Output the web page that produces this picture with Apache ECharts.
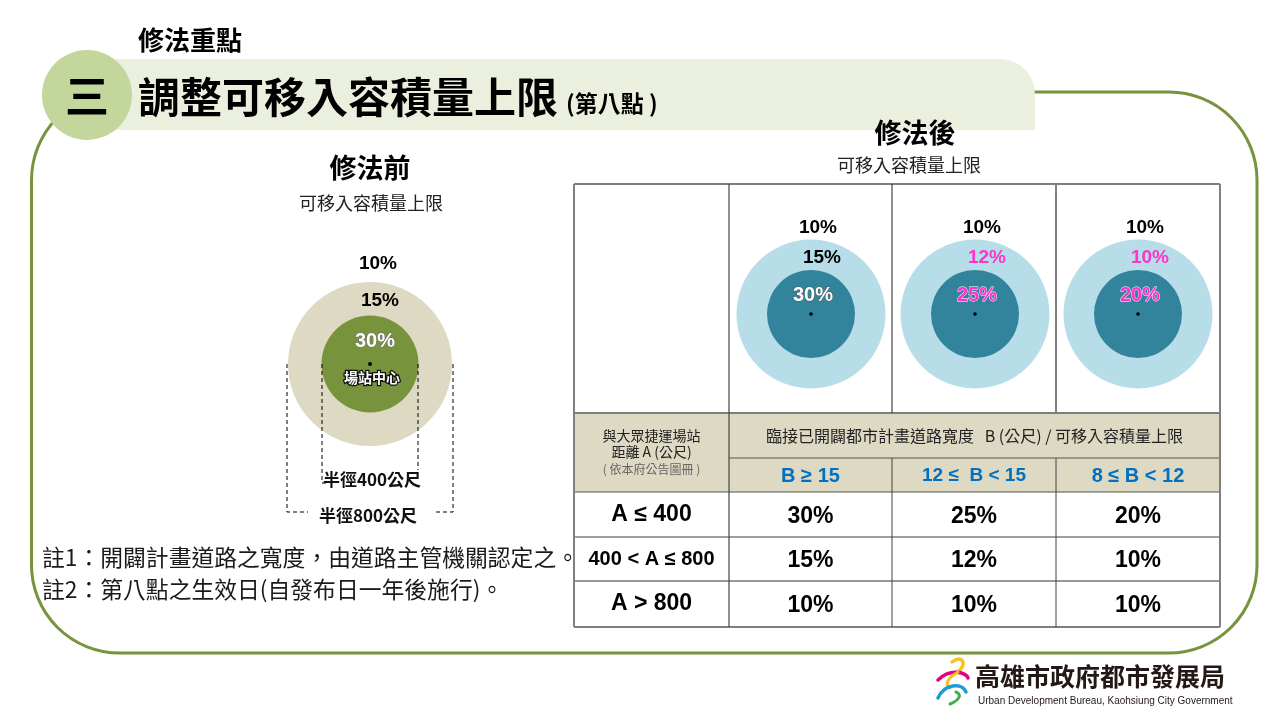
<!DOCTYPE html>
<html><head><meta charset="utf-8">
<script src="https://cdn.jsdelivr.net/npm/echarts@6/dist/echarts.min.js"></script>
<style>html,body{margin:0;padding:0;background:#fff}#c{width:1280px;height:720px}</style>
</head><body><div id="c"></div>
<script>
// ---------- data ----------
const sectionLabel = '修法重點';
const sectionNo = '三';
const titleMain = '調整可移入容積量上限';
const titleSub = '(第八點 )';
const beforeTitle = '修法前';
const afterTitle = '修法後';
const capLabel = '可移入容積量上限';
const centerLabel = '場站中心';
const radiusLabels = ['半徑400公尺', '半徑800公尺'];
const preRates = [30, 15, 10];            // inside 400m, 400-800m, beyond 800m
const rowLabels = ['A ≤ 400', '400 < A ≤ 800', 'A > 800'];
const colLabels = ['B ≥ 15', '12 ≤  B < 15', '8 ≤ B < 12'];
const rates = [                           // rows: distance A, cols: road width B
  [30, 25, 20],
  [15, 12, 10],
  [10, 10, 10]
];
const headerLeft = ['與大眾捷運場站', '距離 A (公尺)', '( 依本府公告圖冊 )'];
const headerTop = '臨接已開闢都市計畫道路寬度   B (公尺) / 可移入容積量上限';
const notes = ['註1：開闢計畫道路之寬度，由道路主管機關認定之。', '註2：第八點之生效日(自發布日一年後施行)。'];
const orgName = '高雄市政府都市發展局';
const orgEn = 'Urban Development Bureau, Kaohsiung City Government';

// ---------- layout / style ----------
const CJK = '"Noto Sans CJK TC","Noto Sans CJK SC",sans-serif';
const LAT = '"Liberation Sans Narrow","Liberation Sans",Arial,sans-serif';
const LATW = '"Liberation Sans",Arial,sans-serif';
const X = [574, 729, 892, 1056, 1220];
const Y = [184, 413, 458, 492, 537, 581, 627];
const beige = '#DDD9C3';
const g = [];

function T(text, x, y, font, fill, extra) {
  const st = Object.assign({ text: String(text), x: x, y: y, font: font, fill: fill || '#000', align: 'center', verticalAlign: 'middle' }, extra || {});
  g.push({ type: 'text', z: 20, style: st, silent: true });
}
function R(x, y, w, h, fill, z, r) {
  g.push({ type: 'rect', z: z || 1, shape: { x: x, y: y, width: w, height: h, r: r || 0 }, style: { fill: fill }, silent: true });
}
function L(pts, stroke, lw, dash, z) {
  g.push({ type: 'polyline', z: z || 10, shape: { points: pts }, style: { stroke: stroke, lineWidth: lw, lineDash: dash || null, fill: null }, silent: true });
}
function C(cx, cy, r, fill, z) {
  g.push({ type: 'circle', z: z || 3, shape: { cx: cx, cy: cy, r: r }, style: { fill: fill }, silent: true });
}
const pct = v => v + '%';

// frame
g.push({ type: 'rect', z: 0, shape: { x: 31.5, y: 92, width: 1225.5, height: 561, r: 88 }, style: { fill: null, stroke: '#77933C', lineWidth: 3 }, silent: true });
// title band
R(60, 59, 975, 71, '#EBF0DE', 2, [0, 35, 0, 0]);
C(87, 95, 45, '#C3D69B', 4);
T(sectionNo, 87, 96, 'bold 44px ' + CJK, '#000');
T(sectionLabel, 138, 40, 'bold 26px ' + CJK, '#000', { align: 'left' });
T(titleMain, 138, 97, 'bold 42px ' + CJK, '#000', { align: 'left' });
T(titleSub, 566, 103, 'bold 23px ' + CJK, '#000', { align: 'left' });

// ---------- before ----------
const preC = [370, 364], preR = [48.5, 82];
T(beforeTitle, 370, 168, 'bold 27px ' + CJK, '#000');
T(capLabel, 371, 203, '18px ' + CJK, '#222', { letterSpacing: 1 });
C(preC[0], preC[1], preR[1], beige, 3);
C(preC[0], preC[1], preR[0], '#77933C', 4);
C(preC[0], preC[1], 2, '#000', 5);
T(pct(preRates[2]), preC[0] + 8, 264, 'bold 19px ' + LATW, '#000');
T(pct(preRates[1]), preC[0] + 10, 301, 'bold 19px ' + LATW, '#000');
T(pct(preRates[0]), preC[0] + 5, 341, 'bold 20px ' + LATW, '#fff', { stroke: '#6d6d6d', lineWidth: 1 });
T(centerLabel, preC[0] + 2, 378, 'bold 14px ' + CJK, '#fff', { stroke: '#111', lineWidth: 2.5 });
// dashed radius markers
L([[287, 364], [287, 512], [308, 512]], '#000', 1, [4, 3]);
L([[453, 364], [453, 512], [433, 512]], '#000', 1, [4, 3]);
L([[322, 364], [322, 483], [326, 483]], '#000', 1, [4, 3]);
L([[418, 364], [418, 470]], '#000', 1, [4, 3]);
T(radiusLabels[0], 372, 480, 'bold 17px ' + CJK, '#111');
T(radiusLabels[1], 368, 516, 'bold 17px ' + CJK, '#111');

// ---------- after ----------
T(afterTitle, 915, 133, 'bold 27px ' + CJK, '#000');
T(capLabel, 909, 165, '18px ' + CJK, '#222', { letterSpacing: 1 });

// header fills
R(X[0], Y[1], X[1] - X[0], Y[3] - Y[1], beige, 1);
R(X[1], Y[1], X[4] - X[1], Y[3] - Y[1], beige, 1);

// post-law circles per column
const postCx = [811, 975, 1138], postCy = 314, postR = [44, 74.5];
for (let j = 0; j < 3; j++) {
  const cx = postCx[j];
  C(cx, postCy, postR[1], '#B7DDE8', 3);
  C(cx, postCy, postR[0], '#31849B', 4);
  C(cx, postCy, 1.8, '#000', 5);
  const mag = '#FF33CC';
  T(pct(rates[2][j]), cx + 7, 228, 'bold 19px ' + LATW, rates[2][j] === preRates[2] ? '#000' : mag);
  const ringCh = rates[1][j] !== preRates[1];
  T(pct(rates[1][j]), cx + (ringCh ? 12 : 11), 258, 'bold 19px ' + LATW, ringCh ? mag : '#000');
  const inCh = rates[0][j] !== preRates[0];
  T(pct(rates[0][j]), cx + 2, 295, 'bold 20px ' + LATW, inCh ? mag : '#fff', { stroke: inCh ? '#fff' : '#555', lineWidth: 0.8 });
}

// table lines
const gray = '#7F7F7F';
L([[X[0], Y[0]], [X[4], Y[0]]], gray, 2);
L([[X[0], Y[1]], [X[4], Y[1]]], gray, 2);
L([[X[1], Y[2]], [X[4], Y[2]]], '#555', 1);
L([[X[0], Y[3]], [X[4], Y[3]]], '#555', 1.2);
L([[X[0], Y[4]], [X[4], Y[4]]], gray, 1.5);
L([[X[0], Y[5]], [X[4], Y[5]]], '#333', 1);
L([[X[0], Y[6]], [X[4], Y[6]]], gray, 2);
L([[X[0], Y[0]], [X[0], Y[6]]], gray, 2);
L([[X[4], Y[0]], [X[4], Y[6]]], gray, 2);
L([[X[1], Y[0]], [X[1], Y[6]]], '#444', 1.2);
L([[X[2], Y[0]], [X[2], Y[1]]], '#222', 1);
L([[X[3], Y[0]], [X[3], Y[1]]], gray, 2);
L([[X[2], Y[2]], [X[2], Y[6]]], '#444', 1);
L([[X[3], Y[2]], [X[3], Y[6]]], '#444', 1);

// header text
const c0 = (X[0] + X[1]) / 2;
T(headerLeft[0], c0, 436, '14px ' + CJK, '#222');
T(headerLeft[1], c0, 452, '14px ' + CJK, '#222');
T(headerLeft[2], c0, 469, '12px ' + CJK, '#666');
T(headerTop, (X[1] + X[4]) / 2, 436, '16px ' + CJK, '#222');
for (let j = 0; j < 3; j++) {
  const cx = (X[j + 1] + X[j + 2]) / 2;
  const font = j === 1 ? 'bold 19px ' + LAT : 'bold 20px ' + LAT;
  T(colLabels[j], cx, 476, font, '#0070C0');
}
// body
for (let i = 0; i < 3; i++) {
  const cy = (Y[3 + i] + Y[4 + i]) / 2 + 1;
  T(rowLabels[i], c0, cy - 1, (i === 1 ? 'bold 20px ' : 'bold 23px ') + LAT, '#000');
  for (let j = 0; j < 3; j++) {
    T(pct(rates[i][j]), (X[j + 1] + X[j + 2]) / 2, cy + 1, 'bold 23px ' + LAT, '#000');
  }
}

// notes
T(notes[0], 42, 557, '22.8px ' + CJK, '#1a1a1a', { align: 'left' });
T(notes[1], 42, 589, '22.8px ' + CJK, '#1a1a1a', { align: 'left' });

// logo
function B(pts, color, lw) {
  g.push({ type: 'bezierCurve', z: 6, shape: { x1: pts[0], y1: pts[1], cpx1: pts[2], cpy1: pts[3], cpx2: pts[4], cpy2: pts[5], x2: pts[6], y2: pts[7] }, style: { stroke: color, lineWidth: lw, fill: null, lineCap: 'round' }, silent: true });
}
B([952, 662, 962, 654, 968, 664, 958, 672], '#F6C21B', 3.5);
B([938, 680, 950, 668, 966, 672, 968, 678], '#E4007F', 3.5);
B([958, 672, 948, 678, 944, 684, 950, 688], '#F6C21B', 3);
B([938, 698, 944, 684, 962, 682, 966, 692], '#1E9CD7', 3.5);
B([950, 704, 960, 700, 962, 694, 956, 692], '#3DB04A', 3);
T(orgName, 975, 676, 'bold 25px ' + CJK, '#231815', { align: 'left' });
T(orgEn, 978, 701, '10px ' + LAT, '#231815', { align: 'left' });

const chart = echarts.init(document.getElementById('c'), null, { renderer: 'canvas' });
chart.setOption({ backgroundColor: '#fff', animation: false, graphic: { elements: g } });
</script>
</body></html>
